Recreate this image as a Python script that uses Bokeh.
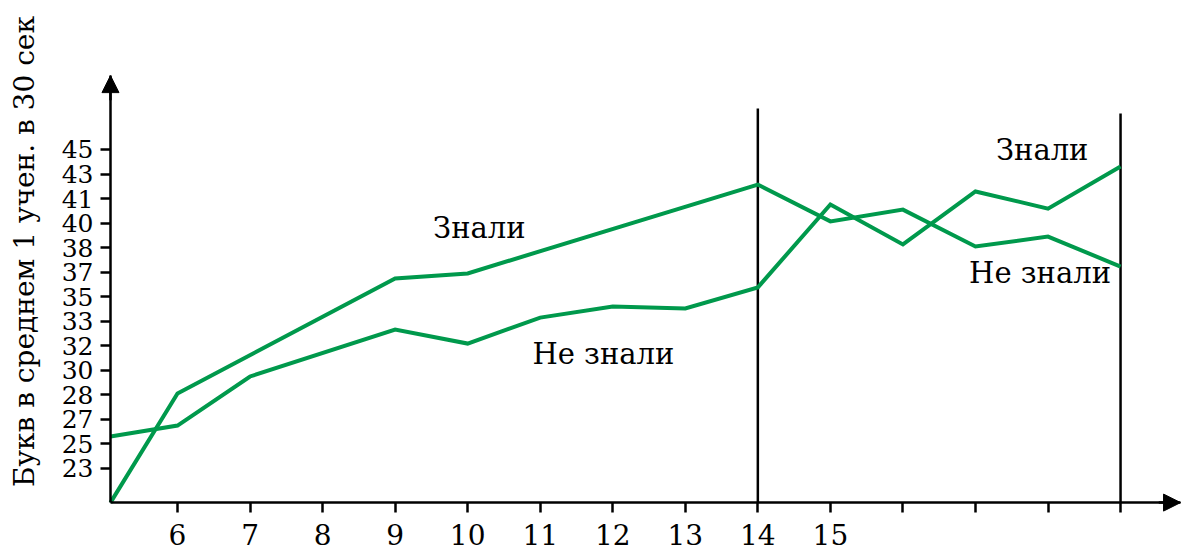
import math
from bokeh.plotting import figure
from bokeh.models import Range1d, FixedTicker, Label, Arrow, NormalHead
from bokeh.core.properties import value
from bokeh.embed import file_html
from bokeh.resources import INLINE

# Y axis: tick labels at equally spaced positions (index 0..13)
y_tick_labels = ["23", "25", "27", "28", "30", "32", "33", "35", "37", "38", "40", "41", "43", "45"]
y_tick_pos = list(range(len(y_tick_labels)))

# X axis ticks (age); only 6..15 are labelled
x_ticks = [6, 7, 8, 9, 10, 11, 12, 13, 14, 15, 16, 17, 18, 19]
x_labelled = [6, 7, 8, 9, 10, 11, 12, 13, 14, 15]

# Series (y in axis-position units)
line1_x = [5.076, 6, 9, 10, 14, 15, 16, 17, 18, 19]
line1_y = [-1.39, 3.06, 7.74, 7.95, 11.57, 10.07, 10.55, 9.05, 9.45, 8.23]

line2_x = [5.076, 6, 7, 9, 10, 11, 12, 13, 14, 15, 16, 17, 18, 19]
line2_y = [1.30, 1.75, 3.75, 5.66, 5.09, 6.15, 6.60, 6.52, 7.38, 10.76, 9.13, 11.29, 10.59, 12.31]

# Vertical divider lines
div_x = [14, 19]
div_top = [14.67, 14.47]

# Text annotations
ann_text = ["Знали", "Не знали", "Знали", "Не знали"]
ann_x = [10.16, 11.87, 17.92, 17.89]
ann_y = [9.78, 4.65, 12.96, 7.95]

y_label = "Букв в среднем 1 учен. в 30 сек"

FONT = "DejaVu Serif"
GREEN = "#00994c"

# axis origin / arrow tips
x0, x_tip = 5.076, 19.827
y0, y_tip = -1.39, 16.01

p = figure(width=1182, height=553, output_backend="svg", toolbar_location=None,
           x_range=Range1d(3.560, 19.854), y_range=Range1d(-3.464, 19.071),
           min_border=0)
p.outline_line_color = None
p.xgrid.visible = False
p.ygrid.visible = False
p.background_fill_color = "white"
p.border_fill_color = "white"

# Axes placed inside the frame at the chart origin
p.yaxis.fixed_location = x0
p.xaxis.fixed_location = y0
p.yaxis.bounds = (y0, y_tip)
p.xaxis.bounds = (x0, x_tip)
p.yaxis.ticker = FixedTicker(ticks=y_tick_pos)
p.yaxis.major_label_overrides = {i: s for i, s in zip(y_tick_pos, y_tick_labels)}
p.xaxis.ticker = FixedTicker(ticks=x_ticks)
p.xaxis.major_label_overrides = {t: (str(t) if t in x_labelled else "") for t in x_ticks}

for ax in (p.xaxis[0], p.yaxis[0]):
    ax.axis_line_width = 2.5
    ax.axis_line_color = "black"
    ax.major_tick_line_width = 2.5
    ax.major_tick_line_color = "black"
    ax.major_tick_in = 0
    ax.major_tick_out = 10
    ax.minor_tick_line_color = None
    ax.major_label_text_font = FONT
    ax.major_label_text_color = "black"

p.yaxis.major_label_text_font_size = "25px"
p.yaxis.major_label_standoff = 7
p.xaxis.major_label_text_font_size = "28px"
p.xaxis.major_label_standoff = 11

# Arrow heads on axes
head = dict(size=17, fill_color="black", line_color="black")
p.add_layout(Arrow(end=NormalHead(**head), x_start=x0, y_start=y_tip - 1, x_end=x0, y_end=y_tip,
                   line_width=2.5, line_color="black"))
p.add_layout(Arrow(end=NormalHead(**head), x_start=x_tip - 0.3, y_start=y0, x_end=x_tip, y_end=y0,
                   line_width=2.5, line_color="black"))

# Vertical dividers
p.segment(x0=div_x, y0=[y0] * len(div_x), x1=div_x, y1=div_top,
          line_color="black", line_width=2.5)

# Series
p.line(line1_x, line1_y, line_color=GREEN, line_width=4, line_join="miter")
p.line(line2_x, line2_y, line_color=GREEN, line_width=4, line_join="miter")

# Annotations
p.text(x=ann_x, y=ann_y, text=ann_text, text_font=value(FONT), text_font_size="29px",
       text_align="center", text_baseline="middle", text_color="black")

# Y axis title as rotated label
p.add_layout(Label(x=3.89, y=8.84, text=y_label, angle=math.pi / 2,
                   text_font=FONT, text_font_size="28px", text_align="center",
                   text_baseline="middle", text_color="black"))

open("out.html", "w").write(file_html(p, INLINE))
